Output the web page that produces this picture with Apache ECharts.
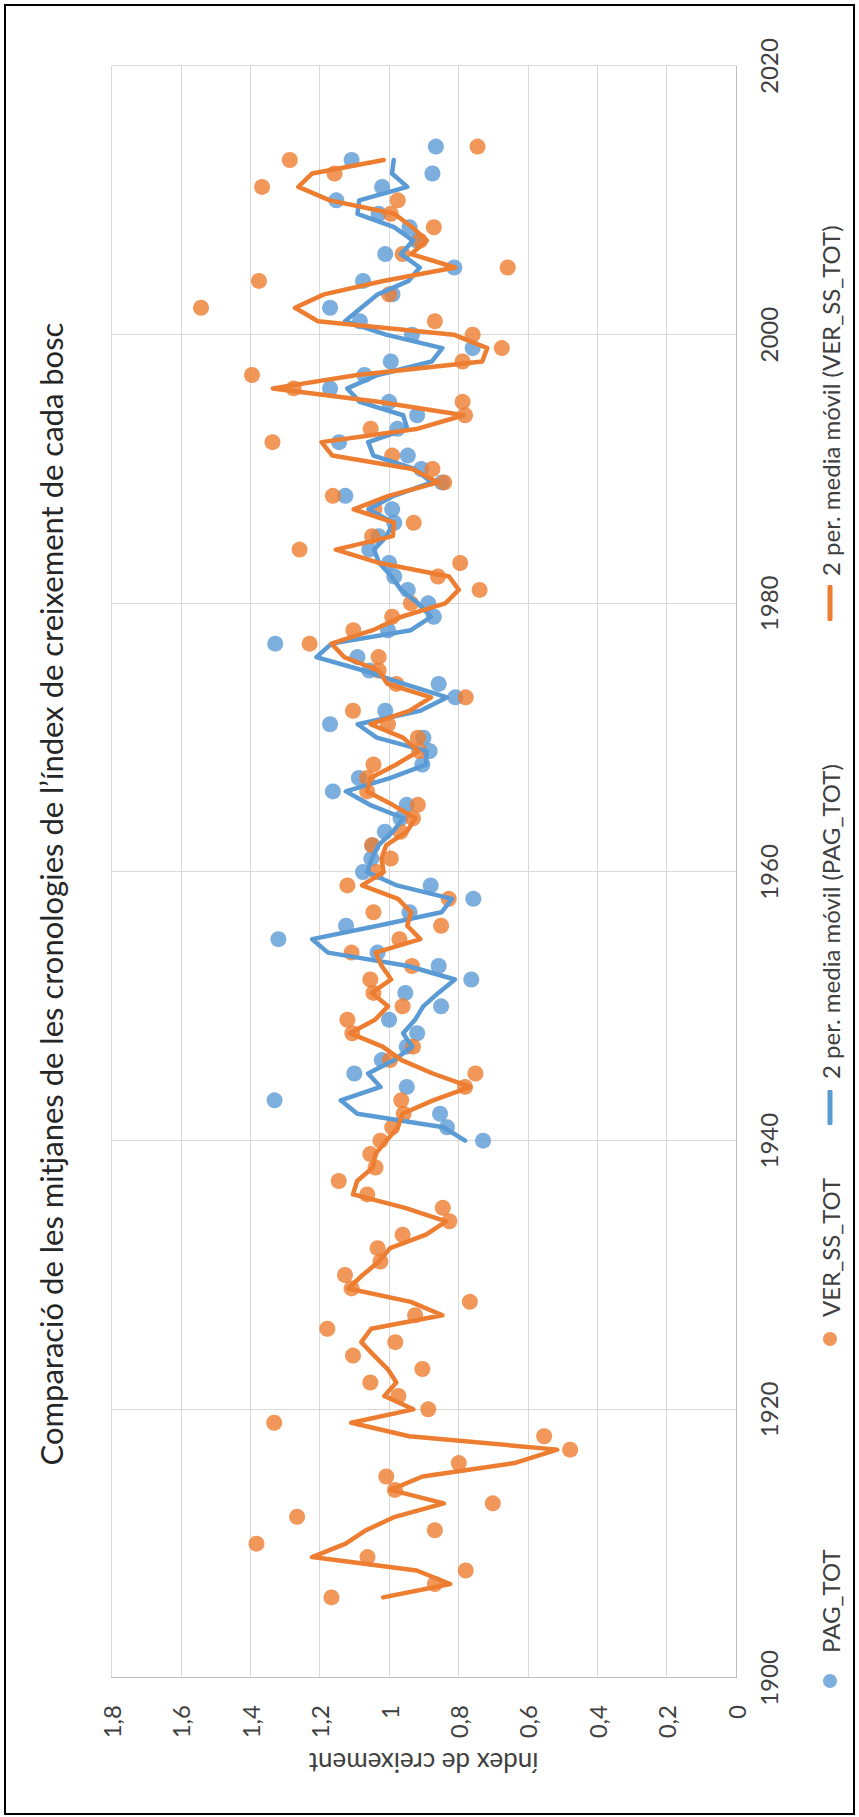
<!DOCTYPE html>
<html><head><meta charset="utf-8">
<script src="https://cdn.jsdelivr.net/npm/echarts@6/dist/echarts.min.js"></script>
<style>
html,body{margin:0;padding:0;width:859px;height:1817px;overflow:hidden;background:#fff;}
#frame{position:absolute;left:4px;top:4px;width:847px;height:1807px;border:2px solid #000;pointer-events:none;}
#chart{position:absolute;left:0;top:0;width:1817px;height:859px;transform-origin:0 0;transform:translateY(1817px) rotate(-90deg);}
</style></head><body>
<div id="chart"></div><div id="frame"></div>
<script>
// ---- data ----
const TITLE = "Comparació de les mitjanes de les cronologies de l’índex de creixement de cada bosc";
const Y_AXIS_NAME = "índex de creixement";
const yearTickLabels = ['1900','1920','1940','1960','1980','2000','2020'];
const valueTickLabels = ['0','0,2','0,4','0,6','0,8','1','1,2','1,4','1,6','1,8'];
const seriesNames = ['PAG_TOT','VER_SS_TOT','2 per. media móvil (PAG_TOT)','2 per. media móvil (VER_SS_TOT)'];

const PAG_START = 1940;
const PAG_TOT = [
 0.729,0.833,0.853,1.330,0.949,1.100,1.021,0.949,0.919,1.000, // 1940-1949
 0.850,0.953,0.763,0.857,1.033,1.319,1.124,0.941,0.757,0.880, // 1950-1959
 1.075,1.051,1.048,1.012,0.967,0.949,1.162,1.087,0.904,0.883, // 1960-1969
 0.901,1.170,1.011,0.809,0.857,1.057,1.091,1.328,1.003,0.871, // 1970-1979
 0.887,0.946,0.985,1.000,1.057,1.030,0.985,0.991,1.126,0.847, // 1980-1989
 0.907,0.946,1.144,0.976,0.919,1.000,1.170,1.071,0.995,0.759, // 1990-1999
 0.934,1.084,1.170,0.990,1.075,0.812,1.011,0.920,0.941,1.030, // 2000-2009
 1.152,1.020,0.875,1.108,0.865                                // 2010-2014
];
const VER_START = 1906;
const VER_SS_TOT = [
 1.166,0.868,0.779,1.062,                                     // 1906-1909
 1.382,0.868,1.265,0.701,0.983,1.008,0.799,0.478,0.553,1.331, // 1910-1919
 0.887,0.973,1.054,0.904,1.104,0.982,1.178,0.925,0.767,1.108, // 1920-1929
 1.127,1.025,1.033,0.961,0.826,0.845,1.063,1.145,1.039,1.054, // 1930-1939
 1.025,0.991,0.958,0.965,0.781,0.751,0.997,0.931,1.106,1.120, // 1940-1949
 0.961,1.045,1.054,0.934,1.108,0.970,0.850,1.045,0.828,1.120, // 1950-1959
 1.036,0.995,1.049,0.967,0.931,0.917,1.063,1.063,1.045,0.913, // 1960-1969
 0.917,1.003,1.104,0.779,0.979,1.030,1.030,1.229,1.103,0.991, // 1970-1979
 0.937,0.739,0.859,0.795,1.258,1.049,0.929,1.042,1.162,0.841, // 1980-1989
 0.875,0.991,1.336,1.053,0.781,0.788,1.275,1.395,0.788,0.675, // 1990-1999
 0.759,0.868,1.542,1.000,1.375,0.658,0.961,0.911,0.871,0.995, // 2000-2009
 0.975,1.366,1.157,1.286,0.745                                // 2010-2014
];

// ---- build ----
function points(start, vals){ return vals.map((v,i)=>[start+i, v]); }
// 2-period moving average (as in the original: value at year t = mean of t and t+1)
function movingAvg(start, vals){
  const out=[];
  for(let i=0;i<vals.length-1;i++) out.push([start+i,(vals[i]+vals[i+1])/2]);
  return out;
}
const BLUE='#5B9BD5', ORANGE='#ED7D31', TXT='#404040';
const FONT='Lato, "Open Sans", sans-serif';

const chart = echarts.init(document.getElementById('chart'), null, {renderer:'svg', width:1817, height:859});

function legendAt(name, left, icon, w, h, padLeft){
  return {data:[{name, icon}], left, top:826-Math.max(h,26)/2, orient:'horizontal',
    itemWidth:w, itemHeight:h, selectedMode:false,
    textStyle:{color:TXT, fontSize:24, fontFamily:FONT, padding:[0,0,0,padLeft]}};
}

chart.setOption({
  animation:false,
  backgroundColor:'#fff',
  grid:{left:139, right:66, top:111.5, bottom:123, containLabel:false},
  xAxis:{type:'value', min:1900, max:2020, interval:20,
    axisLine:{show:true, onZero:false, lineStyle:{color:'#bfbfbf', width:1}},
    axisTick:{show:false},
    splitLine:{show:true, lineStyle:{color:'#d9d9d9', width:1}},
    axisLabel:{color:TXT, fontSize:24, fontFamily:FONT, margin:20,
      formatter:v=>yearTickLabels[Math.round((v-1900)/20)]}
  },
  yAxis:{type:'value', min:0, max:1.8, interval:0.2,
    axisLine:{show:true, onZero:false, lineStyle:{color:'#bfbfbf', width:1}},
    axisTick:{show:false},
    splitLine:{show:true, lineStyle:{color:'#d9d9d9', width:1}},
    axisLabel:{color:TXT, fontSize:24, fontFamily:FONT, margin:27,
      formatter:v=>valueTickLabels[Math.round(v/0.2)]},
    name:Y_AXIS_NAME, nameLocation:'middle', nameRotate:90, nameGap:72,
    nameTextStyle:{color:TXT, fontSize:26, fontFamily:FONT}
  },
  legend:[
    legendAt(seriesNames[0], 124, 'circle', 14, 14, 16),
    legendAt(seriesNames[1], 466, 'circle', 14, 14, 10),
    legendAt(seriesNames[2], 687, 'roundRect', 35, 5, 6),
    legendAt(seriesNames[3], 1191, 'roundRect', 36, 5, 4)
  ],
  graphic:[{type:'text', x:923, y:51,
    style:{text:TITLE, align:'center', verticalAlign:'middle', fontSize:31, fontFamily:FONT, fill:'#262626'}}],
  series:[
    {name:seriesNames[0], type:'scatter', data:points(PAG_START,PAG_TOT), symbolSize:16, itemStyle:{color:BLUE}, z:2},
    {name:seriesNames[1], type:'scatter', data:points(VER_START,VER_SS_TOT), symbolSize:16, itemStyle:{color:ORANGE}, z:3},
    {name:seriesNames[2], type:'line', data:movingAvg(PAG_START,PAG_TOT), showSymbol:false, symbol:'none',
      lineStyle:{color:BLUE, width:4.5, cap:'round', join:'round'}, itemStyle:{color:BLUE}, z:4},
    {name:seriesNames[3], type:'line', data:movingAvg(VER_START,VER_SS_TOT), showSymbol:false, symbol:'none',
      lineStyle:{color:ORANGE, width:4.5, cap:'round', join:'round'}, itemStyle:{color:ORANGE}, z:5}
  ]
});
</script>
</body></html>
